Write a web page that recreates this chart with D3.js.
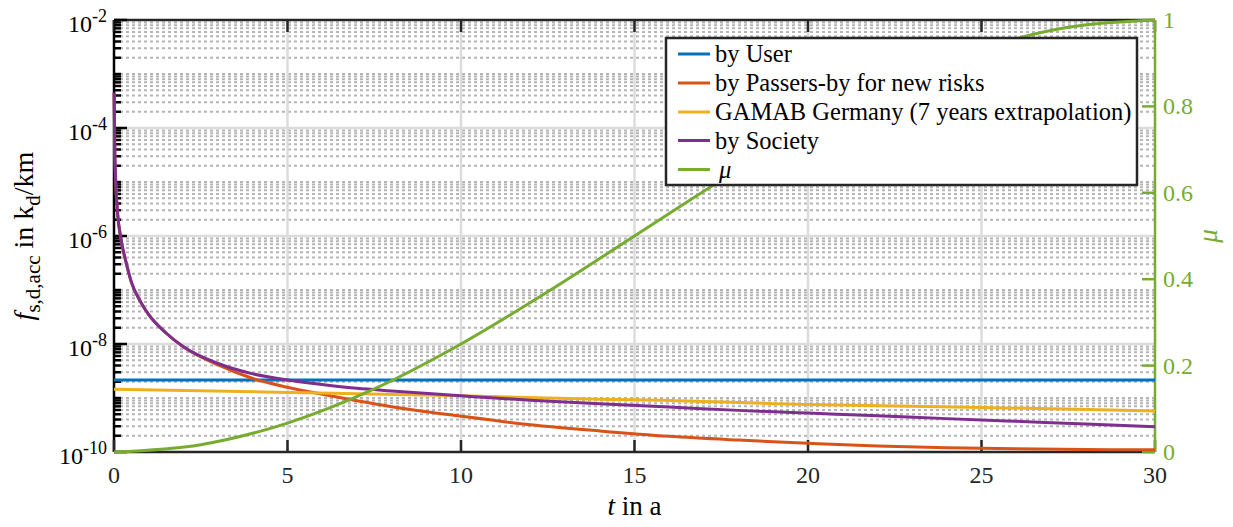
<!DOCTYPE html>
<html><head><meta charset="utf-8"><script src="https://cdn.jsdelivr.net/npm/d3@7"></script></head><body style="margin:0">
<svg id="c" width="1233" height="527"></svg>
<script>
// ---------- data ----------
const seriesNames = ["by User","by Passers-by for new risks","GAMAB Germany (7 years extrapolation)","by Society","μ"];
const seriesColors = ["#0072BD","#D95319","#EDB120","#7E2F8E","#77AC30"];

const tUser = [0, 30];
const fUser = [2.15e-9, 2.15e-9];

const tPassers = [0.005,0.02,0.05,0.1,0.2,0.35,0.5,0.75,1,1.5,2,3,4,5,6,7,8,10,12,14,16,18,20,22,24,26,28,30];
const fPassers = [4.5e-4,5.0e-5,1.0e-5,2.8e-6,8.9e-7,3.2e-7,1.4e-7,6.3e-8,3.5e-8,1.6e-8,8.9e-9,4.1e-9,2.3e-9,1.58e-9,1.17e-9,8.9e-10,6.9e-10,4.6e-10,3.2e-10,2.45e-10,1.95e-10,1.66e-10,1.45e-10,1.29e-10,1.2e-10,1.15e-10,1.11e-10,1.1e-10];

const tGamab = [0,5,10,14,15,20,25,30];
const fGamab = [1.45e-9,1.27e-9,1.1e-9,9.5e-10,9.3e-10,7.6e-10,6.7e-10,5.75e-10];

const tSociety = [0.005,0.02,0.05,0.1,0.2,0.35,0.5,0.75,1,1.5,2,3,4,5,6,7,8,10,12,14,16,18,20,22,24,26,28,30];
const fSociety = [4.5e-4,5.0e-5,1.0e-5,2.8e-6,8.9e-7,3.2e-7,1.4e-7,6.3e-8,3.5e-8,1.6e-8,8.9e-9,4.35e-9,2.8e-9,2.15e-9,1.78e-9,1.51e-9,1.35e-9,1.1e-9,9.1e-10,7.8e-10,6.8e-10,5.9e-10,5.25e-10,4.7e-10,4.15e-10,3.7e-10,3.3e-10,2.95e-10];

const tMu = [0,2.5,5,7.5,10,12.5,15,17.5,20,22.5,25,27.5,30];
const vMu = [0,0.017,0.067,0.146,0.25,0.371,0.5,0.629,0.75,0.854,0.933,0.983,1];

const xTicks = [0,5,10,15,20,25,30];
const yTicks = [1e-10,1e-8,1e-6,1e-4,1e-2];
const yTickExp = ["-10","-8","-6","-4","-2"];
const muTicks = [0,0.2,0.4,0.6,0.8,1];
const muTickLabels = ["0","0.2","0.4","0.6","0.8","1"];

// ---------- layout ----------
const L=114, R=1155, T=20, B=452;
const svg = d3.select("#c");
const x = d3.scaleLinear().domain([0,30]).range([L,R]);
const y = d3.scaleLog().domain([1e-10,1e-2]).range([B,T]);
const y2 = d3.scaleLinear().domain([0,1]).range([B,T]);
const isMajor = v => yTicks.some(m => Math.abs(Math.log10(v)-Math.log10(m))<1e-6);
const minorY = y.ticks().filter(v => !isMajor(v));

// grid
const g = svg.append("g");
g.selectAll(".mg").data(minorY).enter().append("line")
  .attr("x1",L).attr("x2",R).attr("y1",d=>y(d)).attr("y2",d=>y(d))
  .attr("stroke","#b5b5b5").attr("stroke-width",2).attr("stroke-dasharray","3,3");
g.selectAll(".Mg").data(yTicks.slice(1,-1)).enter().append("line")
  .attr("x1",L).attr("x2",R).attr("y1",d=>y(d)).attr("y2",d=>y(d))
  .attr("stroke","#dcdcdc").attr("stroke-width",2.5);
g.selectAll(".xg").data(xTicks.slice(1,-1)).enter().append("line")
  .attr("y1",T).attr("y2",B).attr("x1",d=>x(d)).attr("x2",d=>x(d))
  .attr("stroke","#dcdcdc").attr("stroke-width",2.5);

// axes
svg.append("line").attr("x1",L).attr("x2",R).attr("y1",B).attr("y2",B).attr("stroke","#262626").attr("stroke-width",2.5);
svg.append("line").attr("x1",L).attr("x2",R).attr("y1",T).attr("y2",T).attr("stroke","#262626").attr("stroke-width",2.5);
svg.append("line").attr("x1",L).attr("x2",L).attr("y1",T).attr("y2",B).attr("stroke","#000").attr("stroke-width",2.5);
svg.selectAll(".xtb").data(xTicks).enter().append("line")
  .attr("x1",d=>x(d)).attr("x2",d=>x(d)).attr("y1",B).attr("y2",B-12).attr("stroke","#262626").attr("stroke-width",2.5);
svg.selectAll(".xtt").data(xTicks).enter().append("line")
  .attr("x1",d=>x(d)).attr("x2",d=>x(d)).attr("y1",T).attr("y2",T+12).attr("stroke","#262626").attr("stroke-width",2.5);
svg.selectAll(".ytm").data(yTicks).enter().append("line")
  .attr("x1",L).attr("x2",L+13).attr("y1",d=>y(d)).attr("y2",d=>y(d)).attr("stroke","#000").attr("stroke-width",2.5);
svg.selectAll(".ytn").data(minorY).enter().append("line")
  .attr("x1",L).attr("x2",L+7).attr("y1",d=>y(d)).attr("y2",d=>y(d)).attr("stroke","#000").attr("stroke-width",2.5);
const green = seriesColors[4];
svg.append("line").attr("x1",R).attr("x2",R).attr("y1",T).attr("y2",B).attr("stroke",green).attr("stroke-width",2.5);
svg.selectAll(".rt").data(muTicks).enter().append("line")
  .attr("x1",R).attr("x2",R-13).attr("y1",d=>y2(d)).attr("y2",d=>y2(d)).attr("stroke",green).attr("stroke-width",2.5);

// data lines
const lineL = d3.line().x(d=>x(d[0])).y(d=>y(d[1])).curve(d3.curveMonotoneX);
const lineR = d3.line().x(d=>x(d[0])).y(d=>y2(d[1])).curve(d3.curveMonotoneX);
const dataL = [d3.zip(tUser,fUser), d3.zip(tPassers,fPassers), d3.zip(tGamab,fGamab), d3.zip(tSociety,fSociety)];
dataL.forEach((d,i)=>{
  svg.append("path").attr("d",lineL(d)).attr("fill","none").attr("stroke",seriesColors[i]).attr("stroke-width",3);
});
svg.append("path").attr("d",lineR(d3.zip(tMu,vMu))).attr("fill","none").attr("stroke",green).attr("stroke-width",3);

// legend box
svg.append("rect").attr("x",666).attr("y",38).attr("width",471).attr("height",147).attr("fill","#fff").attr("stroke","#262626").attr("stroke-width",2.5);
const rows = [54,83,112,140.5,169.5];
svg.selectAll(".lgl").data(seriesNames).enter().append("line")
  .attr("x1",678).attr("x2",710).attr("y1",(d,i)=>rows[i]).attr("y2",(d,i)=>rows[i]).attr("stroke",(d,i)=>seriesColors[i]).attr("stroke-width",3);

// ---------- texts ----------
const F = d => `"Liberation Serif"`;
svg.selectAll(".lgt").data(seriesNames).enter().append("text")
  .attr("x",(d,i)=>i===4?719:715).attr("y",(d,i)=>rows[i]+8).attr("font-size",24.5)
  .attr("font-style",(d,i)=>i===4?"italic":"normal").style("font-family",F).text(d=>d);
svg.selectAll(".xl").data(xTicks).enter().append("text")
  .attr("x",d=>x(d)).attr("y",B+31).attr("text-anchor","middle").attr("font-size",24).attr("fill","#262626").style("font-family",F).text(d=>d);
svg.selectAll(".rl").data(muTicks).enter().append("text")
  .attr("x",R+8).attr("y",d=>y2(d)+8).attr("font-size",24).attr("fill",green).style("font-family",F).text((d,i)=>muTickLabels[i]);
const yl = svg.selectAll(".yl").data(yTicks).enter().append("text")
  .attr("x",L-7).attr("y",d=>y(d)+12).attr("text-anchor","end").attr("font-size",24).style("font-family",F);
yl.append("tspan").text("10");
yl.append("tspan").attr("dy",-10).attr("font-size",18).text((d,i)=>yTickExp[i]);

svg.selectAll(".xt").data(["t in a"]).enter().append("text").attr("x",(L+R)/2).attr("y",515).attr("text-anchor","middle").attr("font-size",27).style("font-family",F)
  .call(t=>{t.append("tspan").attr("font-style","italic").text("t");t.append("tspan").text(" in a");});
const ylab = svg.selectAll(".ylab").data(["f"]).enter().append("text").attr("transform",`translate(33,${(T+B)/2}) rotate(-90)`).attr("text-anchor","middle").attr("font-size",28).style("font-family",F);
ylab.append("tspan").attr("font-style","italic").text("f");
ylab.append("tspan").attr("font-size",21).attr("dy",7).text("s,d,acc");
ylab.append("tspan").attr("dy",-7).text(" in k");
ylab.append("tspan").attr("font-size",21).attr("dy",7).text("d");
ylab.append("tspan").attr("dy",-7).text("/km");
svg.selectAll(".mut").data(["μ"]).enter().append("text").attr("transform",`translate(1217,${(T+B)/2}) rotate(-90)`).attr("text-anchor","middle").attr("font-size",27)
  .attr("font-style","italic").attr("fill",green).style("font-family",F).text(d=>d);
</script></body></html>
